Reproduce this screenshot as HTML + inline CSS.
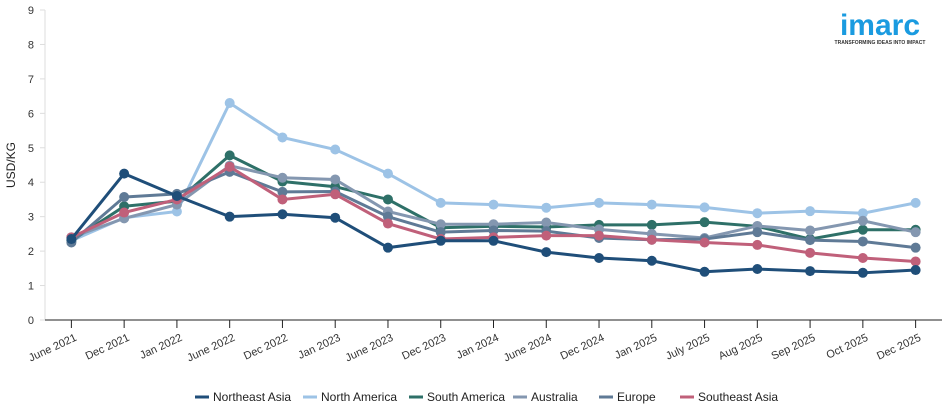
<!DOCTYPE html>
<html><head><meta charset="utf-8"><style>
body{margin:0;background:#fff;font-family:"Liberation Sans",sans-serif}
svg text{font-family:"Liberation Sans",sans-serif}
</style></head><body>
<svg id="c" width="950" height="414">
</svg>
<script>
const categories=["June 2021","Dec 2021","Jan 2022","June 2022","Dec 2022","Jan 2023","June 2023","Dec 2023","Jan 2024","June 2024","Dec 2024","Jan 2025","July 2025","Aug 2025","Sep 2025","Oct 2025","Dec 2025"];
const yTicks=[0,1,2,3,4,5,6,7,8,9];
const seriesNames=["North America","South America","Australia","Europe","Southeast Asia","Northeast Asia"];
const northAmerica=[2.3,2.97,3.15,6.3,5.3,4.95,4.25,3.4,3.35,3.26,3.4,3.35,3.27,3.1,3.16,3.1,3.4];
const southAmerica=[2.3,3.3,3.45,4.78,4.02,3.87,3.5,2.68,2.72,2.7,2.76,2.76,2.84,2.72,2.35,2.62,2.62];
const australia=[2.4,2.95,3.35,4.48,4.13,4.08,3.15,2.78,2.78,2.83,2.63,2.5,2.38,2.73,2.6,2.88,2.55];
const europe=[2.25,3.57,3.66,4.3,3.72,3.73,3.0,2.55,2.6,2.58,2.38,2.33,2.35,2.55,2.32,2.28,2.1];
const southeastAsia=[2.4,3.12,3.5,4.45,3.5,3.65,2.8,2.35,2.4,2.45,2.45,2.33,2.25,2.18,1.95,1.8,1.7];
const northeastAsia=[2.35,4.25,3.6,3.0,3.07,2.97,2.1,2.3,2.3,1.97,1.8,1.72,1.4,1.48,1.42,1.37,1.45];
const svg=document.getElementById('c');const NS="http://www.w3.org/2000/svg";
function mk(t,a,p){const e=document.createElementNS(NS,t);for(const k in a)e.setAttribute(k,a[k]);(p||svg).appendChild(e);return e;}
const x0=45,x1=942,yb=320,yt=10;
const step=(x1-x0)/categories.length;
const xs=i=>x0+step*(i+0.5);
const ys=v=>yb-(v/9)*(yb-yt);
// y axis
let ax=mk('line',{x1:x0,y1:yt,x2:x0,y2:yb,stroke:'#ddd'});


yTicks.forEach(t=>{
 const tk=mk('line',{x1:x0-5,x2:x0,y1:ys(t),y2:ys(t),stroke:'#ddd'});
 
 
 const tx=mk('text',{x:x0-11,y:ys(t)+4,'text-anchor':'end','font-size':11,fill:'#333'});tx.textContent=t;
 
 
});
const yt2=mk('text',{x:0,y:0,transform:'translate(15,165) rotate(-90)','text-anchor':'middle','font-size':12,fill:'#222'});yt2.textContent='USD/KG';


const xa=mk('line',{x1:x0,x2:x1,y1:yb,y2:yb,stroke:'#222','stroke-width':1});


categories.forEach((c,i)=>{
 const tk=mk('line',{x1:xs(i),x2:xs(i),y1:yb,y2:yb+8,stroke:'#222'});
 
 
 const tx=mk('text',{x:0,y:0,transform:`translate(${xs(i)+6},${yb+20}) rotate(-25)`,'text-anchor':'end','font-size':11,fill:'#333'});tx.textContent=c;
 
 
});
const data=[northAmerica,southAmerica,australia,europe,southeastAsia,northeastAsia];
const colors=["#9dc3e6","#2e7068","#8497b0","#5f7a96","#c0607a","#1f4e79"];
data.forEach((d,s)=>{
 const g=mk('g',{});
 
 
 const pl=mk('polyline',{points:d.map((v,i)=>xs(i)+','+ys(v)).join(' '),fill:'none',stroke:colors[s],'stroke-width':3},g);
 
 
 d.forEach((v,i)=>{const c=mk('circle',{cx:xs(i),cy:ys(v),r:5,fill:colors[s]},g);
  
  });
});
// legend
const legOrder=[5,0,1,2,3,4];const legX=[195,303,409,513,599,680];
legOrder.forEach((s,k)=>{
 const g=mk('g',{});
 
 
 mk('line',{x1:legX[k],x2:legX[k]+14,y1:397,y2:397,stroke:colors[s],'stroke-width':3},g);
 const t=mk('text',{x:legX[k]+18,y:401,'font-size':12,fill:'#222'},g);t.textContent=seriesNames[s];
});
// logo
const lg=mk('text',{x:880,y:35,'text-anchor':'middle','font-size':30,'font-weight':'bold',fill:'#1a9be0'});lg.textContent='imarc';


const sl=mk('text',{x:880,y:44,'text-anchor':'middle','font-size':5,'font-weight':'bold',fill:'#333'});sl.textContent='TRANSFORMING IDEAS INTO IMPACT';


</script>
</body></html>
